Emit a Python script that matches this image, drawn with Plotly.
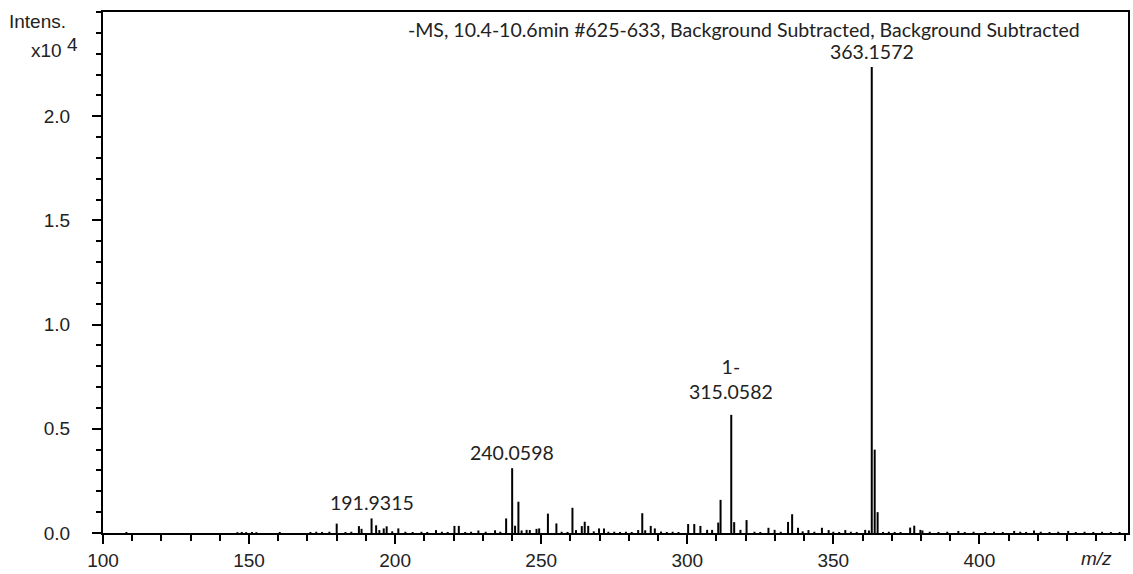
import plotly.graph_objects as go

# Centroided peak list: m/z and absolute intensity (counts)
mz = [
    108.0, 146.0, 147.5, 149.0, 151.0, 152.5, 160.5, 171.0, 173.0, 175.0, 177.5,
    180.0, 183.0, 185.0, 187.6, 188.5, 191.9315, 193.5, 194.6, 196.1, 197.1,
    199.0, 201.1, 203.5, 206.0, 209.0, 211.0, 214.0, 216.0, 218.0, 220.3, 221.8,
    224.0, 226.0, 228.5, 231.0, 234.2, 236.0, 238.0, 240.0598, 241.06, 242.2,
    243.3, 245.0, 246.1, 248.4, 249.3, 252.3, 255.2, 257.0, 259.0, 260.7, 261.9,
    263.9, 264.9, 266.1, 268.0, 269.8, 271.5, 273.0, 275.0, 277.0, 279.0, 281.0,
    283.2, 284.6, 285.6, 287.5, 288.9, 291.0, 293.0, 295.0, 297.0, 300.3, 302.4,
    304.5, 306.8, 308.5, 310.6, 311.4, 315.0582, 316.06, 318.2, 320.3, 323.0,
    325.0, 327.8, 329.9, 332.0, 334.5, 335.9, 337.9, 339.5, 341.5, 343.5, 346.1,
    348.4, 350.0, 352.0, 354.1, 356.0, 358.0, 360.9, 362.2, 363.1572, 364.16,
    365.16, 367.0, 369.0, 371.0, 373.0, 376.3, 377.7, 379.8, 380.5, 383.0, 386.0,
    389.0, 392.8, 395.0, 398.0, 402.0, 405.0, 408.0, 411.9, 414.0, 416.0, 418.7,
    421.0, 424.0, 427.0, 430.4, 433.0, 436.0, 439.0, 442.0, 445.0, 448.0,
]
intensity = [
    50, 40, 50, 40, 50, 40, 50, 50, 60, 50, 60,
    450, 50, 60, 330, 200, 700, 370, 140, 220, 320,
    80, 220, 60, 50, 60, 50, 140, 60, 50, 340, 340,
    50, 60, 120, 60, 130, 60, 700, 3110, 350, 1500,
    120, 150, 140, 200, 220, 930, 460, 60, 50, 1210, 140,
    330, 540, 340, 80, 220, 220, 60, 60, 50, 60, 50,
    140, 950, 130, 340, 220, 70, 50, 60, 50, 430, 430,
    340, 150, 150, 500, 1590, 5670, 520, 150, 620, 60,
    50, 250, 150, 60, 530, 900, 250, 80, 140, 60, 250,
    140, 60, 50, 140, 60, 50, 150, 120, 22360, 4000,
    1000, 50, 60, 50, 50, 260, 350, 150, 120, 60, 50,
    60, 100, 50, 60, 50, 60, 50, 100, 60, 50, 120,
    60, 50, 60, 100, 50, 60, 50, 60, 50, 50,
]

# Annotated peaks
label_mz = [191.9315, 240.0598, 315.0582, 363.1572]
label_text = ["191.9315", "240.0598", "1-<br>315.0582", "363.1572"]
label_shift = [2, 2, 10, 2]

scan_title = "-MS, 10.4-10.6min #625-633, Background Subtracted, Background Subtracted"
y_tickvals = [0.0, 0.5, 1.0, 1.5, 2.0]
x_tickvals = [100, 150, 200, 250, 300, 350, 400]

SCALE = 1e4  # intensity axis shown in units of 10^4

# Stick spectrum: one vertical segment per peak
xs, ys = [], []
for m, h in zip(mz, intensity):
    xs += [m, m, None]
    ys += [0, h / SCALE, None]

fig = go.Figure()
fig.add_trace(go.Scatter(
    x=xs, y=ys, mode="lines",
    line=dict(color="black", width=2),
    hoverinfo="skip", showlegend=False,
))

L, R, T, B = 103, 3, 12, 41
W, H = 1133, 574
pw = W - L - R
ph = H - T - B

axis_font = dict(family="Liberation Sans, Arial, sans-serif", size=19, color="#222")
label_font = dict(family="Lato, Open Sans, sans-serif", size=19.5, color="#222")

peak_h = dict(zip(mz, intensity))
for m, txt, sh in zip(label_mz, label_text, label_shift):
    fig.add_annotation(
        x=m, y=peak_h[m] / SCALE, text=txt, showarrow=False,
        xanchor="center", yanchor="bottom", yshift=sh,
        font=label_font,
    )

def px_x(p):
    return (p - L) / pw

def px_y(p):
    return (H - B - p) / ph

fig.add_annotation(xref="paper", yref="paper", x=px_x(745), y=px_y(29),
                   text=scan_title, showarrow=False, xanchor="center",
                   yanchor="middle", font=label_font)
fig.add_annotation(xref="paper", yref="paper", x=px_x(68), y=px_y(22),
                   text="Intens.", showarrow=False, xanchor="right",
                   yanchor="middle", font=axis_font)
fig.add_annotation(xref="paper", yref="paper", x=px_x(64), y=px_y(50),
                   text="x10", showarrow=False, xanchor="right",
                   yanchor="middle", font=axis_font)
fig.add_annotation(xref="paper", yref="paper", x=px_x(65), y=px_y(44),
                   text="4", showarrow=False, xanchor="left",
                   yanchor="middle", font=axis_font)
fig.add_annotation(xref="x", yref="paper", x=440, y=px_y(558),
                   text="<i>m/z</i>", showarrow=False, xanchor="center",
                   yanchor="middle", font=axis_font)

fig.update_xaxes(
    range=[100, 100 + pw / 2.927], tickvals=x_tickvals,
    ticks="outside", ticklen=9, tickwidth=2, tickcolor="black",
    showline=True, linewidth=2, linecolor="black", mirror=True,
    showgrid=False, zeroline=False, tickfont=axis_font,
    minor=dict(dtick=10, tick0=100, ticks="outside", ticklen=6,
               tickwidth=2, tickcolor="black", showgrid=False),
)
fig.update_yaxes(
    range=[0, ph / 208.4], tickvals=y_tickvals, tickformat=".1f",
    ticks="outside", ticklen=9, tickwidth=2, tickcolor="black",
    showline=True, linewidth=2, linecolor="black", mirror=True,
    showgrid=False, zeroline=False, tickfont=axis_font,
    ticklabelstandoff=18,
    minor=dict(dtick=0.1, tick0=0, ticks="outside", ticklen=5,
               tickwidth=2, tickcolor="black", showgrid=False),
)
fig.update_layout(
    width=W, height=H,
    margin=dict(l=L, r=R, t=T, b=B),
    plot_bgcolor="white", paper_bgcolor="white",
)

fig.write_html("out.html")
